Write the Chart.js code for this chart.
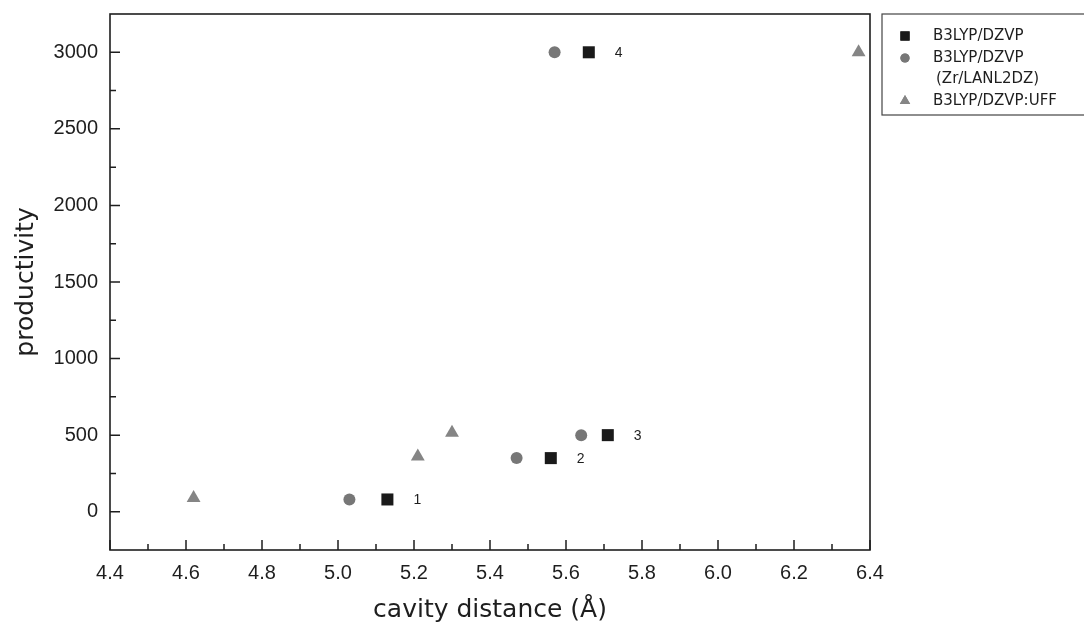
<!DOCTYPE html>
<html>
<head>
<meta charset="utf-8">
<script src="https://cdn.jsdelivr.net/npm/chart.js@4.4.0/dist/chart.umd.min.js"></script>
<style>
  html, body { margin: 0; padding: 0; background: #fff; }
  #wrap { width: 1084px; height: 631px; }
</style>
</head>
<body>
<div id="wrap"><canvas id="myChart" width="1084" height="631"></canvas></div>
<script>
// values
const squareX = [5.13, 5.56, 5.71, 5.66];
const squareY = [80, 350, 500, 3000];
const circleX = [5.03, 5.47, 5.64, 5.57];
const circleY = [80, 350, 500, 3000];
const triangleX = [4.62, 5.21, 5.30, 6.37];
const triangleY = [90, 360, 515, 3000];
const pointLabels = ['1', '2', '3', '4'];

const legendLabels = [
  ['B3LYP/DZVP'],
  ['B3LYP/DZVP', '(Zr/LANL2DZ)'],
  ['B3LYP/DZVP:UFF']
];

const xMajor = [4.4, 4.6, 4.8, 5.0, 5.2, 5.4, 5.6, 5.8, 6.0, 6.2, 6.4];
const xMinor = [4.5, 4.7, 4.9, 5.1, 5.3, 5.5, 5.7, 5.9, 6.1, 6.3];
const yMajor = [0, 500, 1000, 1500, 2000, 2500, 3000];
const yMinor = [250, 750, 1250, 1750, 2250, 2750];

const ink = '#1e1e1e';
const tickFont = { family: 'Liberation Sans', size: 20 };

function toPoints(xs, ys) {
  return xs.map((x, i) => ({ x: x, y: ys[i] }));
}

function buildTicks(major, minor) {
  return major.map(v => ({ value: v, isMajor: true }))
    .concat(minor.map(v => ({ value: v, isMajor: false })))
    .sort((a, b) => a.value - b.value);
}

const frame = {
  id: 'frame',
  afterDraw(chart) {
    const ctx = chart.ctx;
    const area = chart.chartArea;
    const xs = chart.scales.x, ys = chart.scales.y;
    ctx.save();
    ctx.strokeStyle = ink;
    ctx.lineWidth = 1.6;
    ctx.strokeRect(area.left, area.top, area.right - area.left, area.bottom - area.top);

    // inward ticks
    ctx.lineWidth = 1.5;
    ctx.beginPath();
    xs.ticks.forEach(t => {
      const px = xs.getPixelForValue(t.value);
      const len = t.isMajor ? 10 : 6;
      ctx.moveTo(px, area.bottom);
      ctx.lineTo(px, area.bottom - len);
    });
    ys.ticks.forEach(t => {
      const py = ys.getPixelForValue(t.value);
      const len = t.isMajor ? 10 : 6;
      ctx.moveTo(area.left, py);
      ctx.lineTo(area.left + len, py);
    });
    ctx.stroke();

    // numbers beside the squares
    const meta = chart.getDatasetMeta(0);
    ctx.fillStyle = ink;
    ctx.font = '14px "Liberation Sans"';
    ctx.textAlign = 'left';
    ctx.textBaseline = 'middle';
    meta.data.forEach((el, i) => {
      ctx.fillText(pointLabels[i], el.x + 26, el.y + 1);
    });

    // legend box
    const lx = 882, ly = 14;
    ctx.strokeStyle = '#444';
    ctx.lineWidth = 1.2;
    ctx.strokeRect(lx, ly, 220, 101);
    ctx.font = '15px "DejaVu Sans"';
    let y = 36;
    chart.data.datasets.forEach((ds, i) => {
      ctx.fillStyle = ds.backgroundColor;
      Chart.helpers.drawPoint(ctx, {
        pointStyle: ds.pointStyle,
        radius: ds.legendRadius,
        borderWidth: 0,
        rotation: 0
      }, 905, y);
      ctx.fill();
      ctx.fillStyle = ink;
      legendLabels[i].forEach((line, j) => {
        ctx.fillText(line, j === 0 ? 933 : 936, y);
        y += (j < legendLabels[i].length - 1) ? 21 : 0;
      });
      y += 22;
    });
    ctx.restore();
  }
};

new Chart(document.getElementById('myChart').getContext('2d'), {
  type: 'scatter',
  data: {
    datasets: [
      {
        label: legendLabels[0].join(' '),
        data: toPoints(squareX, squareY),
        pointStyle: 'rect',
        pointRadius: 8.5,
        legendRadius: 6.5,
        backgroundColor: '#1a1a1a',
        borderWidth: 0
      },
      {
        label: legendLabels[1].join(' '),
        data: toPoints(circleX, circleY),
        pointStyle: 'circle',
        pointRadius: 6,
        legendRadius: 4.6,
        backgroundColor: '#777777',
        borderWidth: 0
      },
      {
        label: legendLabels[2].join(' '),
        data: toPoints(triangleX, triangleY),
        pointStyle: 'triangle',
        pointRadius: 8,
        legendRadius: 6,
        backgroundColor: '#858585',
        borderWidth: 0
      }
    ]
  },
  options: {
    responsive: false,
    animation: false,
    devicePixelRatio: 1,
    layout: { padding: { left: 0, top: 14, right: 214, bottom: 0 } },
    plugins: {
      legend: { display: false },
      tooltip: { enabled: false }
    },
    scales: {
      x: {
        type: 'linear',
        min: 4.4,
        max: 6.4,
        afterBuildTicks: s => { s.ticks = buildTicks(xMajor, xMinor); },
        afterFit: s => { s.height = 81; s.paddingLeft = 0; s.paddingRight = 0; },
        grid: { display: false, drawTicks: false },
        border: { display: false },
        ticks: {
          autoSkip: false,
          padding: 11,
          color: ink,
          font: tickFont,
          maxRotation: 0,
          callback: v => xMajor.some(m => Math.abs(m - v) < 1e-6) ? v.toFixed(1) : ''
        },
        title: {
          display: true,
          text: 'cavity distance (Å)',
          color: ink,
          font: { family: 'DejaVu Sans', size: 25 },
          padding: { top: 0, bottom: 6 }
        }
      },
      y: {
        type: 'linear',
        min: -250,
        max: 3250,
        afterBuildTicks: s => { s.ticks = buildTicks(yMajor, yMinor); },
        afterFit: s => { s.width = 110; s.paddingTop = 0; s.paddingBottom = 0; },
        grid: { display: false, drawTicks: false },
        border: { display: false },
        ticks: {
          autoSkip: false,
          padding: 12,
          color: ink,
          font: tickFont,
          callback: v => yMajor.includes(v) ? String(v) : ''
        },
        title: {
          display: true,
          text: 'productivity',
          color: ink,
          font: { family: 'DejaVu Sans', size: 25 },
          padding: { top: 11, bottom: 0 }
        }
      }
    }
  },
  plugins: [frame]
});
</script>
</body>
</html>
